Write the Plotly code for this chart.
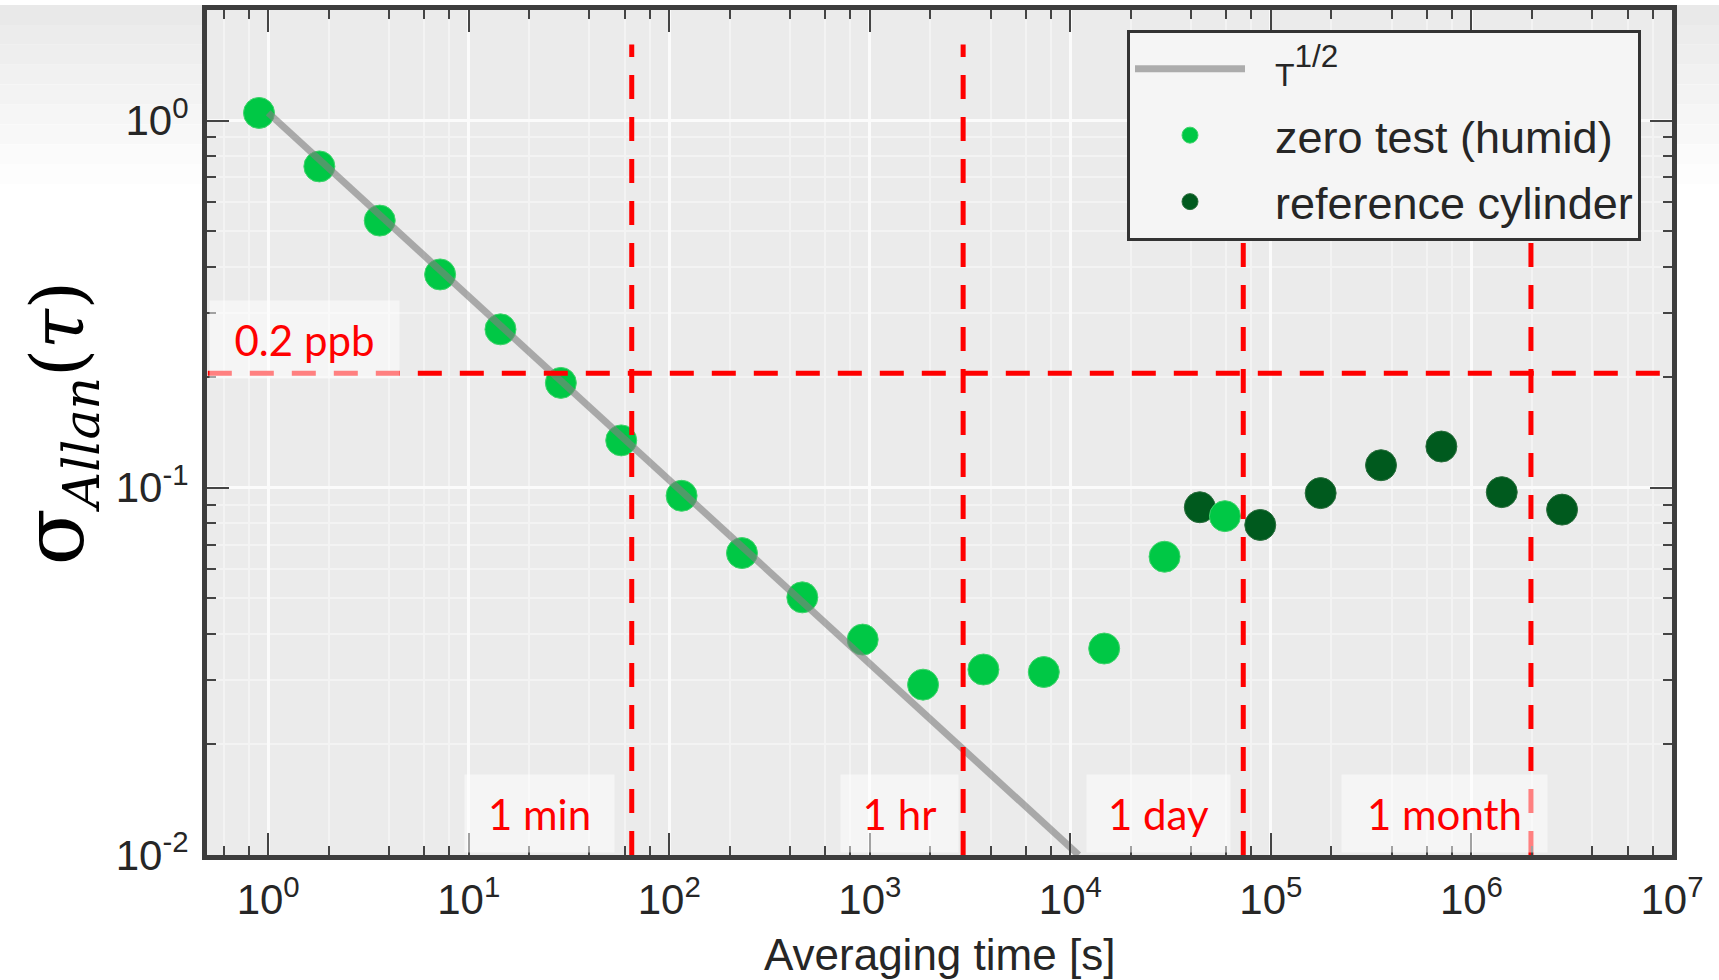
import plotly.graph_objects as go

# ---------------- data ----------------
zero_tau = [0.9, 1.8, 3.6, 7.2, 14.4, 28.8, 57.6, 115.2, 230.4, 460.8, 921.6,
            1843, 3686, 7373, 14746, 29491, 58982]
zero_sigma = [1.049, 0.750, 0.534, 0.381, 0.270, 0.193, 0.1346, 0.0951, 0.0664,
              0.0503, 0.0386, 0.0291, 0.0320, 0.0315, 0.0365, 0.0649, 0.0837]

ref_tau = [44200, 88500, 177000, 354000, 708000, 1416000, 2830000]
ref_sigma = [0.0885, 0.0792, 0.0967, 0.1152, 0.1295, 0.0973, 0.0872]

fit_tau = [1.0, 11000.0]
fit_sigma = [1.05, 0.0100]

thr_tau = [0.5, 1.0e7]
thr_sigma = [0.205, 0.205]
thr_label = "0.2 ppb"

mark_tau = [65, 2920, 72800, 1.98e6]
mark_sigma = [0.01, 1.61]
mark_labels = ["1 min", "1 hr", "1 day", "1 month"]

x_tickvals = [1, 10, 100, 1e3, 1e4, 1e5, 1e6, 1e7]
x_ticktext = ["10<sup>0</sup>", "10<sup>1</sup>", "10<sup>2</sup>", "10<sup>3</sup>",
              "10<sup>4</sup>", "10<sup>5</sup>", "10<sup>6</sup>", "10<sup>7</sup>"]
y_tickvals = [0.01, 0.1, 1]
y_ticktext = ["10<sup>-2</sup>", "10<sup>-1</sup>", "10<sup>0</sup>"]

x_title = "Averaging time [s]"
y_title = '<span style="font-size:84px">σ</span><sub><i>Allan</i></sub>(<i>τ</i>)'
fit_name = '<span style="font-size:32px">T</span><sup>1/2</sup>'
zero_name = "zero test (humid)"
ref_name = "reference cylinder"

# ---------------- layout geometry ----------------
W, H = 1719, 980
ML, MR, MT, MB = 207, 47, 5, 125
PW, PH = W - ML - MR, H - MT - MB


def px(x):
    return (x - ML) / PW


def py(y):
    return (H - MB - y) / PH


SANS = "Liberation Sans, Arial, sans-serif"
RED = "#ff0000"
LEAD = "\u00a0\u00a0"   # small lead-in so legend text sits where the reference has it

fig = go.Figure()

fig.add_trace(go.Scatter(
    x=ref_tau, y=ref_sigma, mode="markers", name=LEAD + ref_name, legendrank=3,
    legendgroup="c",
    marker=dict(size=31, color="#005a1e", line=dict(width=1, color="#2a6e3d"))))
fig.add_trace(go.Scatter(
    x=zero_tau, y=zero_sigma, mode="markers", name=LEAD + zero_name, legendrank=2,
    legendgroup="b",
    marker=dict(size=31, color="#00c845", line=dict(width=1, color="#3fd36b"))))
fig.add_trace(go.Scatter(
    x=fit_tau, y=fit_sigma, mode="lines", name=LEAD + fit_name, legendrank=1,
    legendgroup="a",
    line=dict(color="rgba(128,128,128,0.62)", width=7)))

fig.add_trace(go.Scatter(
    x=thr_tau, y=thr_sigma, mode="lines", showlegend=False, hoverinfo="skip",
    line=dict(color=RED, width=5, dash="24px,18px")))

vx, vy = [], []
for t in mark_tau:
    vx += [t, t, None]
    vy += [mark_sigma[0], mark_sigma[1], None]
fig.add_trace(go.Scatter(
    x=vx, y=vy, mode="lines", showlegend=False, hoverinfo="skip",
    line=dict(color=RED, width=5, dash="24px,18px")))

# minor tick positions
x_minor = [m * 10 ** e for e in range(-1, 7) for m in (2, 4, 6, 8) if 0.5 <= m * 10 ** e <= 1e7]
y_minor = [m * 10 ** e for e in range(-2, 1) for m in range(2, 10) if m * 10 ** e <= 2]

axis_common = dict(
    type="log", showline=True, linecolor="#3d3d3d", linewidth=5, mirror="allticks",
    ticks="inside", ticklen=22, tickwidth=2, tickcolor="#444444",
    showgrid=True, gridcolor="#fbfbfb", gridwidth=3, zeroline=False,
    tickfont=dict(family=SANS, size=42, color="#262626"),
)

fig.update_xaxes(
    **axis_common, range=[-0.305, 7.0], tickvals=x_tickvals, ticktext=x_ticktext,
    ticklabelstandoff=4,
    minor=dict(tickvals=x_minor, ticks="inside", ticklen=9, tickwidth=2, tickcolor="#444444",
               showgrid=True, gridcolor="#f3f3f3", gridwidth=2))
fig.update_yaxes(
    **axis_common, range=[-2, 0.30103], tickvals=y_tickvals, ticktext=y_ticktext,
    ticklabelstandoff=5,
    minor=dict(tickvals=y_minor, ticks="inside", ticklen=9, tickwidth=2, tickcolor="#444444",
               showgrid=True, gridcolor="#f3f3f3", gridwidth=2))

annotations = [
    dict(x=px(939.5), y=py(955), xref="paper", yref="paper", text=x_title,
         showarrow=False, xanchor="center", yanchor="middle",
         font=dict(family=SANS, size=44, color="#262626")),
    dict(x=px(58), y=py(421), xref="paper", yref="paper", text=y_title,
         showarrow=False, xanchor="center", yanchor="middle", textangle=-90,
         font=dict(family="DejaVu Serif, serif", size=72, color="#000000")),
]

# label boxes: (text, centre x, centre y, width, height) in page pixels
boxes = [(thr_label, 304.5, 336.5, 189, 77)]
for lab, cx, w in zip(mark_labels, [539.5, 899.5, 1158.5, 1444.5], [149, 117, 143, 205]):
    boxes.append((lab, cx, 813.5, w, 77))
for lab, cx, cy, w, h in boxes:
    annotations.append(dict(
        x=px(cx), y=py(cy), xref="paper", yref="paper", text=lab, showarrow=False,
        xanchor="center", yanchor="middle", width=w, height=h, borderpad=0,
        bgcolor="rgba(255,255,255,0.5)",
        font=dict(family="Lato, sans-serif", size=42, color=RED)))

# soft grey page gradient at the top of the slide, only in the margins
shapes = []
for i, g in enumerate([233, 236, 238, 241, 243, 246, 248, 251, 253]):
    for x0, x1 in ((0, ML - 3), (W - MR + 3, W)):
        shapes.append(dict(type="rect", xref="paper", yref="paper", layer="below",
                           x0=px(x0), x1=px(x1), y0=py(20 * (i + 1)), y1=py(20 * i),
                           fillcolor=f"rgb({g},{g},{g})", line=dict(width=0)))

fig.update_layout(
    width=W, height=H, autosize=False,
    margin=dict(l=ML, r=MR, t=MT, b=MB, pad=0),
    paper_bgcolor="white", plot_bgcolor="#ebebeb",
    showlegend=True,
    legend=dict(x=px(1127), y=py(25), xanchor="left", yanchor="top",
                bgcolor="#f5f5f5", bordercolor="#333333", borderwidth=3,
                font=dict(family=SANS, size=45, color="#262626"),
                itemwidth=110, itemsizing="trace", tracegroupgap=5),
    annotations=annotations, shapes=shapes,
)

fig.write_html("out.html", config={"displayModeBar": False},
               post_script="document.body.style.margin='0';document.body.style.overflow='hidden';")
